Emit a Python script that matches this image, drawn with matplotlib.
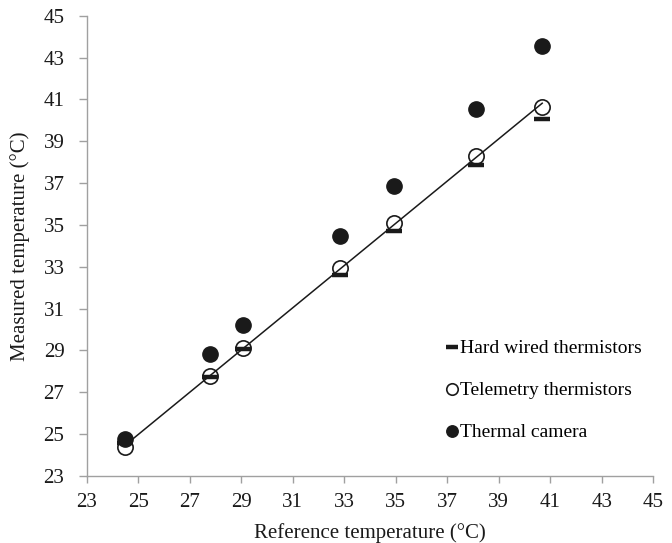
import matplotlib
matplotlib.use("Agg")
import matplotlib.pyplot as plt
import numpy as np

# reference temperatures (x) and readings for each sensor
reference = [24.5, 27.77, 29.07, 32.83, 34.93, 38.1, 40.69]
hard_wired = [24.6, 27.73, 29.05, 32.62, 34.72, 37.88, 40.07]
telemetry = [24.4, 27.78, 29.1, 32.92, 35.1, 38.3, 40.65]
thermal_camera = [24.75, 28.81, 30.24, 34.47, 36.87, 40.54, 43.53]

ticks = list(range(23, 46, 2))

plt.rcParams['font.family'] = ['Liberation Serif', 'DejaVu Serif']
fs = 15

fig = plt.figure(figsize=(6.72, 5.43), dpi=100)
ax = fig.add_axes([0.129, 0.1234, 0.843, 0.8477])

# trend line through the telemetry readings
slope, intercept = np.polyfit(reference, telemetry, 1)
xs = np.array([min(reference), max(reference)])
ax.plot(xs, slope * xs + intercept, color='#1a1a1a', lw=1.1, zorder=2)

ax.plot(reference, hard_wired, ls='none', marker='_', ms=11, mew=3.2,
        color='#1a1a1a', label='Hard wired thermistors', zorder=3)
ax.plot(reference, telemetry, ls='none', marker='o', ms=11, mew=1.2,
        mfc='none', mec='#1a1a1a', label='Telemetry thermistors', zorder=4)
ax.plot(reference, thermal_camera, ls='none', marker='o', ms=11,
        color='#1a1a1a', label='Thermal camera', zorder=5)

ax.set_xlim(23, 45)
ax.set_ylim(23, 45)
ax.set_xticks(ticks)
ax.set_yticks(ticks)
ax.tick_params(axis='both', direction='out', length=5, width=1,
               color='#a0a0a0', labelsize=fs, labelcolor='#1a1a1a')
ax.tick_params(axis='x', pad=7)
ax.tick_params(axis='y', length=6, pad=10)
for side in ['top', 'right']:
    ax.spines[side].set_visible(False)
for side in ['left', 'bottom']:
    ax.spines[side].set_color('#a0a0a0')
    ax.spines[side].set_linewidth(1)

ax.set_xlabel('Reference temperature (\u00b0C)', fontsize=fs, color='#1a1a1a', labelpad=8)
ax.set_ylabel('Measured temperature (\u00b0C)', fontsize=fs, color='#1a1a1a', labelpad=10)

ax.legend(loc='lower right', bbox_to_anchor=(1.0, 0.05), frameon=False,
          fontsize=14, handlelength=0.5, handletextpad=0.15,
          labelspacing=1.25, markerscale=0.75, borderaxespad=0.2)

fig.savefig('out.png', dpi=100)
